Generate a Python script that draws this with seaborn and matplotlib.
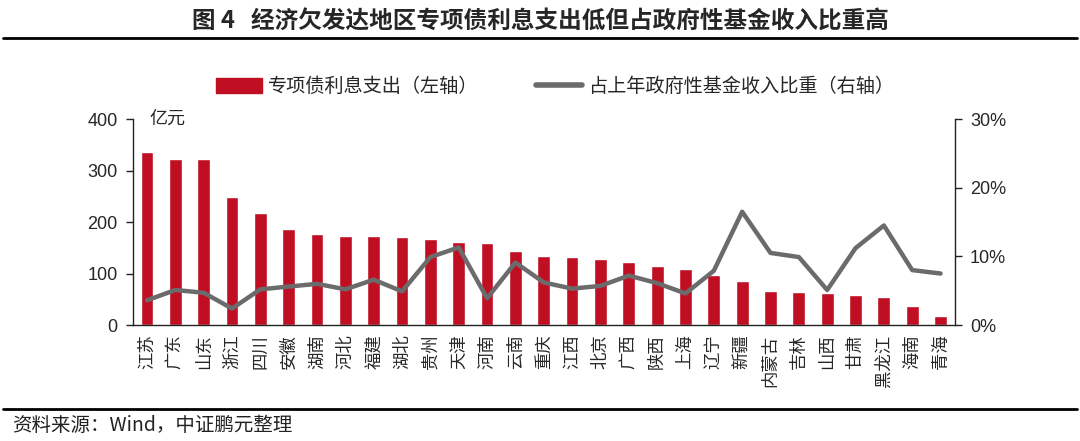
import numpy as np
import matplotlib
matplotlib.use("Agg")
import matplotlib.pyplot as plt
import seaborn as sns
from matplotlib.patches import Patch
from matplotlib.lines import Line2D
from matplotlib.ticker import FuncFormatter, FixedLocator

# Data
provinces = ["江苏", "广东", "山东", "浙江", "四川", "安徽", "湖南", "河北", "福建", "湖北",
             "贵州", "天津", "河南", "云南", "重庆", "江西", "北京", "广西", "陕西", "上海",
             "辽宁", "新疆", "内蒙古", "吉林", "山西", "甘肃", "黑龙江", "海南", "青海"]
interest = [336, 323, 323, 249, 217, 186, 177, 173, 172, 170,
            168, 161, 160, 144, 135, 133, 128, 122, 114, 109,
            98, 86, 67, 65, 62, 58, 54, 36, 18]
ratio = [3.6, 5.1, 4.7, 2.4, 5.2, 5.6, 6.0, 5.2, 6.6, 4.9,
         9.9, 11.3, 3.9, 9.1, 6.2, 5.3, 5.7, 7.2, 6.1, 4.6,
         7.9, 16.5, 10.5, 9.9, 5.1, 11.2, 14.5, 8.0, 7.5]

bar_label = "专项债利息支出（左轴）"
line_label = "占上年政府性基金收入比重（右轴）"
title = "图 4   经济欠发达地区专项债利息支出低但占政府性基金收入比重高"
source = "资料来源：Wind，中证鹏元整理"

RED = "#C00F22"
GRAY = "#6B6B6B"

sns.set_style("white")
plt.rcParams['font.family'] = ['Liberation Sans', 'Noto Sans CJK SC', 'DejaVu Sans']
plt.rcParams['axes.unicode_minus'] = False
CJK = ['Noto Sans CJK SC', 'DejaVu Sans']

fig = plt.figure(figsize=(10.8, 4.41), dpi=100)
ax = fig.add_axes([0.123, 0.263, 0.761, 0.467])

sns.barplot(x=provinces, y=interest, color=RED, width=0.45, saturation=1, ax=ax)
ax.set_ylim(0, 400)
ax.set_xlim(-0.5, len(provinces) - 0.5)
ax.set_yticks([0, 100, 200, 300, 400])

ax2 = ax.twinx()
sns.lineplot(x=np.arange(len(provinces)), y=ratio, color=GRAY, linewidth=3.2, ax=ax2)
ax2.set_ylim(0, 30)
ax2.set_yticks([0, 10, 20, 30])
ax2.yaxis.set_major_formatter(FuncFormatter(lambda v, p: f"{v:.0f}%"))
ax2.set_xlim(-0.5, len(provinces) - 0.5)

# x ticks: labels at centers, tick marks at category boundaries
ax.set_xticks(np.arange(len(provinces)))
ax.set_xticklabels(provinces, rotation=90, fontsize=12.5, family=CJK)
ax.tick_params(axis="x", which="major", length=0, pad=7)
ax.xaxis.set_minor_locator(FixedLocator(np.arange(-0.5, len(provinces), 1.0)))
ax.tick_params(axis="x", which="minor", length=5, width=1, color="#222222", direction="out")

ax.tick_params(axis="y", length=5, width=1, color="#222222", direction="out", labelsize=13, pad=6)
ax2.tick_params(axis="y", length=5, width=1, color="#222222", direction="out", labelsize=13, pad=6)
ax.set_xlabel("")
ax.set_ylabel("")
ax2.set_ylabel("")

for a in (ax, ax2):
    a.spines["top"].set_visible(False)
    for s in ("left", "right", "bottom"):
        a.spines[s].set_color("#222222")
        a.spines[s].set_linewidth(1)
ax.spines["right"].set_visible(False)
ax2.spines["left"].set_visible(False)
ax2.spines["bottom"].set_visible(False)
ax.grid(False)
ax2.grid(False)

ax.text(0.02, 1.0, "亿元", transform=ax.transAxes, fontsize=13, va="center", ha="left",
        family=CJK)

handles = [Patch(facecolor=RED, edgecolor=RED),
           Line2D([0], [0], color=GRAY, linewidth=4)]
fig.legend(handles, [bar_label, line_label], loc="center", bbox_to_anchor=(0.514, 0.803),
           ncol=2, frameon=False, prop={"family": CJK, "size": 13.8}, handlelength=2.4,
           handleheight=0.8, columnspacing=3.0, handletextpad=0.3)

fig.text(0.5, 0.952, title, ha="center", va="center", fontsize=17, fontweight="bold",
         family=CJK)
fig.add_artist(Line2D([0.003, 0.997], [0.914, 0.914], color="black", linewidth=2,
                      transform=fig.transFigure))
fig.add_artist(Line2D([0.003, 0.997], [0.072, 0.072], color="black", linewidth=2,
                      transform=fig.transFigure))
fig.text(0.011, 0.035, source, ha="left", va="center", fontsize=14, color="#222222",
         family=CJK)

fig.savefig("out.png", dpi=100)
